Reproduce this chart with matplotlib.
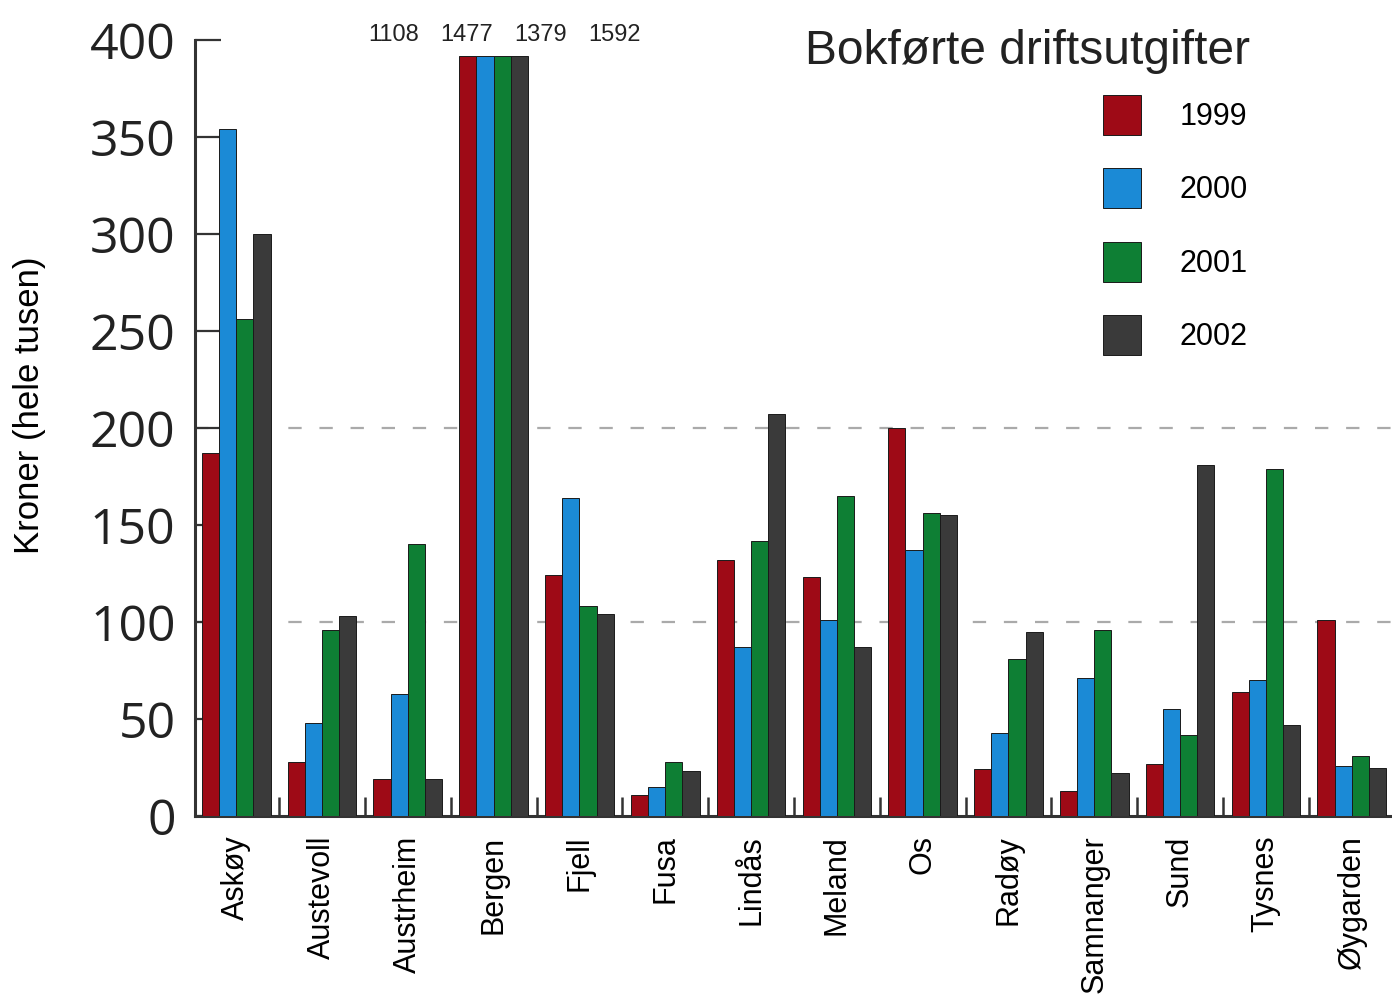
import numpy as np
import matplotlib.pyplot as plt
from matplotlib.ticker import FixedLocator

# --- data ---
kommuner = ["Askøy", "Austevoll", "Austrheim", "Bergen", "Fjell", "Fusa", "Lindås",
            "Meland", "Os", "Radøy", "Samnanger", "Sund", "Tysnes", "Øygarden"]
years = ["1999", "2000", "2001", "2002"]
v1999 = [187, 28, 19, 1108, 124, 11, 132, 123, 200, 24, 13, 27, 64, 101]
v2000 = [354, 48, 63, 1477, 164, 15, 87, 101, 137, 43, 71, 55, 70, 26]
v2001 = [256, 96, 140, 1379, 108, 28, 142, 165, 156, 81, 96, 42, 179, 31]
v2002 = [300, 103, 19, 1592, 104, 23, 207, 87, 155, 95, 22, 181, 47, 25]
cap = 392          # bars above this are cut and labelled
colors = ["#9e0a16", "#1b8ad6", "#0e7f34", "#3a3a3a"]
# ------------

series = [v1999, v2000, v2001, v2002]
x = np.arange(len(kommuner))
width = 0.2

fig = plt.figure(figsize=(13.92, 10.01), dpi=100)
ax = fig.add_axes([195/1392, 185/1001, 1 - 195/1392, 776/1001])

handles = []
for k, (vals, c) in enumerate(zip(series, colors)):
    vals = np.array(vals, dtype=float)
    b = ax.bar(x + (k - 1.5) * width, np.minimum(vals, cap), width,
               color=c, edgecolor="#1a1a1a", linewidth=0.7, zorder=3)
    handles.append(b)

# value labels for the cut Bergen bars
bi = kommuner.index("Bergen")
for k, vals in enumerate(series):
    ax.text(bi + 0.12 + (k - 1.5) * 0.86, 402.5, str(vals[bi]), ha="center", va="center",
            fontsize=17, family="Liberation Sans", color="#222222", clip_on=False)

for yv in [100, 200]:
    ax.axhline(yv, color="#aaaaaa", linestyle=(0, (6, 8)), linewidth=1.6, zorder=0)

ax.set_xlim(-0.48, 13.47)
ax.set_ylim(0, 400)
ax.spines["top"].set_visible(False)
ax.spines["right"].set_visible(False)
for s in ["left", "bottom"]:
    ax.spines[s].set_linewidth(2.2)
    ax.spines[s].set_color("#333333")

ax.set_yticks(np.arange(0, 401, 50))
ax.tick_params(axis="y", direction="in", length=19, width=1.6, color="#333333",
               labelsize=36, pad=14, labelcolor="#222222")
for lab in ax.get_yticklabels():
    lab.set_family("Open Sans")

ax.set_xticks(x)
ax.set_xticklabels(kommuner, rotation=90, fontsize=22, family="Liberation Sans")
ax.tick_params(axis="x", which="major", length=0, pad=14)
ax.xaxis.set_minor_locator(FixedLocator(x[:-1] + 0.5))
ax.tick_params(axis="x", which="minor", direction="in", length=14, width=1.8, color="#333333")

ax.set_ylabel("Kroner (hele tusen)", fontsize=25, family="Liberation Sans")
ax.yaxis.set_label_coords((46 - 195) / 1197, (816 - 405) / 776)

fig.text(805/1392, 1 - 52/1001, "Bokførte driftsutgifter", fontsize=34.5, family="Liberation Sans",
         ha="left", va="center", color="#222222")
ax.legend(handles, years, loc="upper left", bbox_to_anchor=(1103/1392, 1 - 95/1001),
          bbox_transform=fig.transFigure, frameon=False,
          prop={"family": "Liberation Sans", "size": 22},
          handlelength=1.25, handleheight=1.63, handletextpad=1.25, labelspacing=1.1,
          borderpad=0, borderaxespad=0)

fig.savefig("out.png", dpi=100)
